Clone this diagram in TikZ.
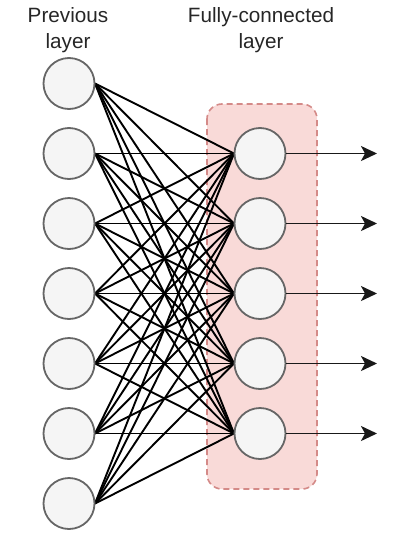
\documentclass[tikz,border=0pt]{standalone}
\usepackage{fontspec}
\setmainfont{Liberation Sans}
\usetikzlibrary{arrows.meta}
\definecolor{nodefill}{HTML}{F5F5F5}
\definecolor{nodeline}{HTML}{666666}
\definecolor{fcfill}{HTML}{F9DAD8}
\definecolor{fcline}{HTML}{D48A88}
\begin{document}
\begin{tikzpicture}[x=1pt,y=-1pt,
  neuron/.style={circle,draw=nodeline,fill=nodefill,line width=1.8pt,minimum size=51pt,inner sep=0pt},
  conn/.style={black,line width=1.9pt},
  outarrow/.style={black!90,line width=1.9pt,-{Stealth[length=16pt,width=15pt,inset=4pt]}},
  fcbox/.style={draw=fcline,fill=fcfill,line width=1.6pt,dash pattern=on 6pt off 4pt,rounded corners=15pt},
  lbl/.style={font=\fontsize{20.7}{26}\selectfont,align=center,inner sep=0pt,text=black!85}
]
\useasboundingbox (0,0) rectangle (410,536);
\node[lbl,anchor=north] (lblprev) at (68,7.5) {Previous\\layer};
\node[lbl,anchor=north] (lblfc) at (261,7.5) {Fully-connected\\layer};
\draw[fcbox] (207,104) rectangle (317,489);
\foreach \i in {1,...,7} {
  \coordinate (L\i) at (69,{83.5+70*(\i-1)});
}
\foreach \j in {1,...,5} {
  \coordinate (R\j) at (260,{153.5+70*(\j-1)});
}
\foreach \i in {1,...,7} {
  \foreach \j in {1,...,5} {
    \draw[conn] ([xshift=26pt]L\i) -- ([xshift=-26pt]R\j);
  }
}
\foreach \i in {1,...,7} {
  \node[neuron] (l\i) at (L\i) {};
}
\foreach \j in {1,...,5} {
  \node[neuron] (r\j) at (R\j) {};
  \coordinate (o\j) at (377,{153.5+70*(\j-1)});
  \draw[outarrow] (r\j.east) -- (o\j);
}
\end{tikzpicture}
\end{document}
